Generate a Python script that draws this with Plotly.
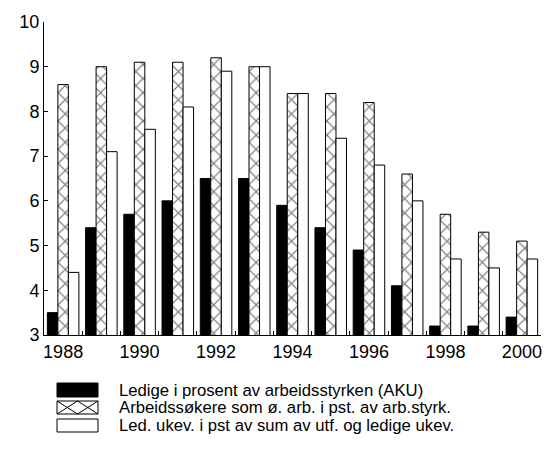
import plotly.graph_objects as go

years = list(range(1988, 2001))
aku = [3.5, 5.4, 5.7, 6.0, 6.5, 6.5, 5.9, 5.4, 4.9, 4.1, 3.2, 3.2, 3.4]
arbs = [8.6, 9.0, 9.1, 9.1, 9.2, 9.0, 8.4, 8.4, 8.2, 6.6, 5.7, 5.3, 5.1]
ukev = [4.4, 7.1, 7.6, 8.1, 8.9, 9.0, 8.4, 7.4, 6.8, 6.0, 4.7, 4.5, 4.7]
names = [
    "Ledige i prosent av arbeidsstyrken (AKU)",
    "Arbeidssøkere som ø. arb. i pst. av arb.styrk.",
    "Led. ukev. i pst av sum av utf. og ledige ukev.",
]
xticks = [1988, 1990, 1992, 1994, 1996, 1998, 2000]

FONT = "Liberation Sans, Arial, sans-serif"
W, H = 547, 459
ML, MR, MT, MB = 44, 6, 22, 124
PW, PH = W - ML - MR, H - MT - MB


def px(x):
    return (x - ML) / PW


def py(y):
    return (H - MB - y) / PH


line = dict(color="black", width=1)
fig = go.Figure()
fig.add_bar(x=years, y=aku, name=names[0],
            marker=dict(color="black", line=line))
fig.add_bar(x=years, y=arbs, name=names[1],
            marker=dict(color="white", line=line,
                        pattern=dict(shape="x", fgcolor="black", bgcolor="white",
                                     size=10, solidity=0.22)))
fig.add_bar(x=years, y=ukev, name=names[2],
            marker=dict(color="white", line=line))

shapes = []
# legend swatches
sw_x0, sw_x1 = 57, 98
rows = [(383, 397), (401, 414), (419, 432)]
fills = ["black", "white", "white"]
for (y0, y1), f in zip(rows, fills):
    shapes.append(dict(type="rect", xref="paper", yref="paper",
                       x0=px(sw_x0), x1=px(sw_x1), y0=py(y1), y1=py(y0),
                       fillcolor=f, line=dict(color="black", width=1)))
y0, y1 = rows[1]
xm = (sw_x0 + sw_x1) / 2
for a, b in [(sw_x0, xm), (xm, sw_x1)]:
    shapes.append(dict(type="line", xref="paper", yref="paper",
                       x0=px(a), x1=px(b), y0=py(y0), y1=py(y1),
                       line=dict(color="black", width=1)))
    shapes.append(dict(type="line", xref="paper", yref="paper",
                       x0=px(a), x1=px(b), y0=py(y1), y1=py(y0),
                       line=dict(color="black", width=1)))

annotations = []
for (y0, y1), n in zip(rows, names):
    annotations.append(dict(xref="paper", yref="paper", x=px(117), y=py((y0 + y1) / 2),
                            xanchor="left", yanchor="middle", text=n, showarrow=False,
                            font=dict(family=FONT, size=16.7, color="black")))

fig.update_layout(
    width=W, height=H,
    margin=dict(l=ML, r=MR, t=MT, b=MB),
    paper_bgcolor="white", plot_bgcolor="white",
    barmode="group", bargap=0.175, bargroupgap=0,
    showlegend=False,
    font=dict(family=FONT, size=18, color="black"),
    shapes=shapes, annotations=annotations,
    xaxis=dict(range=[1987.5, 2000.5], tickmode="array", tickvals=xticks,
               ticks="", showline=True, linecolor="black", linewidth=1,
               showgrid=False, zeroline=False,
               tickfont=dict(family=FONT, size=18, color="black"),
               minor=dict(tickmode="array", tickvals=[y + 0.5 for y in years[:-1]],
                          ticks="inside", ticklen=4, tickcolor="black", showgrid=False)),
    yaxis=dict(range=[3, 10], dtick=1, ticks="inside", ticklen=4, tickcolor="black",
               showline=True, linecolor="black", linewidth=1,
               showgrid=False, zeroline=False,
               tickfont=dict(family=FONT, size=18, color="black")),
)

fig.write_html("out.html", config={"displayModeBar": False},
               post_script="document.body.style.margin='0';document.body.style.overflow='hidden';")
